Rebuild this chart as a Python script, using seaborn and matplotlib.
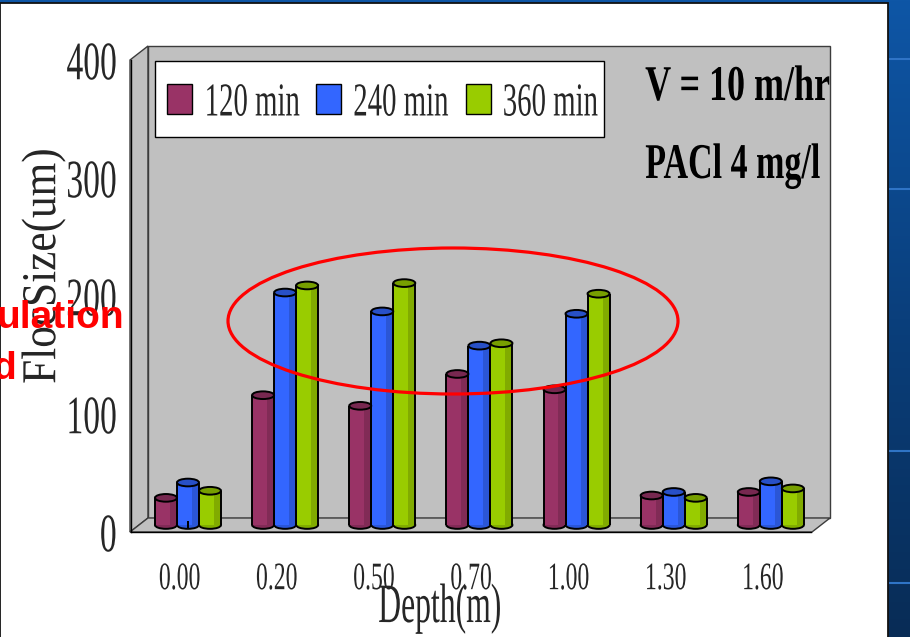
import numpy as np
import pandas as pd
import matplotlib
matplotlib.use("Agg")
import matplotlib.pyplot as plt
import seaborn as sns
from matplotlib.patches import Rectangle, Polygon, Ellipse
from matplotlib.patheffects import AbstractPathEffect
from matplotlib.transforms import Affine2D
from matplotlib.path import Path
from matplotlib.colors import LinearSegmentedColormap

# ---------------- data ----------------
depths = ["0.00", "0.20", "0.50", "0.70", "1.00", "1.30", "1.60"]
series = ["120 min", "240 min", "360 min"]
size_120 = [23, 110, 101, 128, 115, 25, 28]
size_240 = [36, 197, 181, 152, 179, 28, 37]
size_360 = [29, 203, 205, 154, 196, 23, 31]
y_ticks = [0, 100, 200, 300, 400]
y_ticklabels = ["0", "100", "200", "300", "400"]
note_lines = ["V = 10 m/hr", "PACl 4 mg/l"]
side_text = ["ulation", "d"]
colors = ["#993366", "#3366FF", "#99CC00"]

sns.set_style("white")
plt.rcParams["font.family"] = ["Liberation Serif", "DejaVu Serif"]

W, H = 910, 637


def fx(px):
    return px / W


def fy(py):
    return 1 - py / H


class Squeeze(AbstractPathEffect):
    """Draw text condensed (like the stretched PowerPoint chart text)."""

    def __init__(self, sx=1.0, sy=1.0, anchor="center"):
        super().__init__()
        self.sx, self.sy, self.anchor = sx, sy, anchor

    def draw_path(self, renderer, gc, tpath, affine, rgbFace=None):
        verts = tpath.vertices
        if tpath.codes is not None:
            verts = verts[tpath.codes != Path.CLOSEPOLY]
        if len(verts) == 0:
            renderer.draw_path(gc, tpath, affine, rgbFace)
            return
        d = affine.transform(verts)
        x0, x1 = d[:, 0].min(), d[:, 0].max()
        y0, y1 = d[:, 1].min(), d[:, 1].max()
        axp = {"left": x0, "right": x1}.get(self.anchor, (x0 + x1) / 2)
        ayp = (y0 + y1) / 2
        t = affine + Affine2D().translate(-axp, -ayp).scale(self.sx, self.sy).translate(axp, ayp)
        renderer.draw_path(gc, tpath, t, rgbFace)


fig = plt.figure(figsize=(9.1, 6.37), dpi=100)

# ---------------- background (slide + chart frame + 3D walls) ----------------
bg = fig.add_axes([0, 0, 1, 1], zorder=0)
bg.set_xlim(0, W)
bg.set_ylim(H, 0)
bg.axis("off")
grad = np.linspace(0, 1, 256).reshape(-1, 1)
cmap = LinearSegmentedColormap.from_list("slide", ["#0e56a6", "#0a3f7c", "#082c56"])
bg.imshow(grad, extent=[0, W, H, 0], cmap=cmap, aspect="auto", zorder=0)
bg.hlines([59, 189, 451, 583], 889, W, color="#2f74c6", lw=1.5, zorder=0.5)
bg.add_patch(Rectangle((0, 3), 888, 640, fc="white", ec="#111111", lw=1.3, zorder=1))

wall_c = "#C0C0C0"
edge_c = "#3c3c3c"
bg.add_patch(Polygon([(130, 532), (130, 60), (148, 46), (148, 518)], closed=True,
                     fc=wall_c, ec=edge_c, lw=1, zorder=2))
back = Rectangle((148, 46), 682, 472, fc=wall_c, ec=edge_c, lw=1, zorder=2)
bg.add_patch(back)
bg.add_patch(Polygon([(130, 532), (148, 518), (830, 518), (812, 532)], closed=True,
                     fc=wall_c, ec=edge_c, lw=1, zorder=2))
# legend frame
bg.add_patch(Rectangle((155, 61), 449, 76, fc="white", ec="black", lw=1, zorder=3))

# notes
for txt, yb, sq in zip(note_lines, [100, 178], [0.72, 0.68]):
    t = bg.text(645, yb, txt, fontsize=36, fontweight="bold", ha="left", va="baseline",
                color="black", zorder=4)
    t.set_clip_path(back)
    t.set_path_effects([Squeeze(sx=sq, anchor="left")])

# ---------------- bars (mid-depth plane) ----------------
axb = fig.add_axes([fx(139.4), fy(525), 680 / W, 472 / H], zorder=1)
axb.patch.set_visible(False)

df = pd.DataFrame({
    "Depth": depths * 3,
    "Size": size_120 + size_240 + size_360,
    "Time": np.repeat(series, len(depths)),
})
sns.barplot(data=df, x="Depth", y="Size", hue="Time", order=depths, hue_order=series,
            palette=colors, width=0.68, saturation=1, linewidth=0, errorbar=None, ax=axb)
axb.set_xlim(-0.5, 6.5)
axb.set_ylim(0, 400)
for s in axb.spines.values():
    s.set_visible(False)
axb.set_xticks([])
axb.set_yticks([])
axb.set_xlabel("")
axb.set_ylabel("")

eh = 6.5  # ellipse height (data units)
for p in list(axb.patches):
    x0, w, h = p.get_x(), p.get_width(), p.get_height()
    fc = np.array(p.get_facecolor()[:3])
    cx = x0 + w / 2
    z = p.get_zorder()
    axb.add_patch(Ellipse((cx, 0), w, eh, fc=fc * 0.85, ec="black", lw=1.4,
                          zorder=z - 0.1, clip_on=False))
    axb.add_patch(Rectangle((x0 + 0.68 * w, 0), 0.32 * w, h, fc=fc * 0.84, ec="none",
                            zorder=z + 0.05))
    axb.plot([x0, x0], [0, h], color="black", lw=1.4, zorder=z + 0.1, solid_capstyle="butt")
    axb.plot([x0 + w, x0 + w], [0, h], color="black", lw=1.4, zorder=z + 0.1,
             solid_capstyle="butt")
    axb.add_patch(Ellipse((cx, h), w, eh, fc=fc * 0.78, ec="black", lw=1.4,
                          zorder=z + 0.2, clip_on=False))

sns.move_legend(axb, "upper left", bbox_to_anchor=(fx(167), fy(83)),
                bbox_transform=fig.transFigure, ncol=3, frameon=False, title=None,
                fontsize=34, handlelength=0.53, handleheight=0.614, handletextpad=0.233,
                columnspacing=-0.91, borderpad=0, borderaxespad=0)
leg = axb.get_legend()
for hdl in leg.get_patches():
    hdl.set_edgecolor("black")
    hdl.set_linewidth(1)
for t in leg.get_texts():
    t.set_path_effects([Squeeze(sx=0.61, anchor="left")])

# ---------------- front axes: ticks & labels ----------------
axf = fig.add_axes([fx(131), fy(532), 680 / W, 472 / H], zorder=2)
axf.patch.set_visible(False)
axf.set_xlim(-0.5, 6.5)
axf.set_ylim(0, 400)
axf.spines["top"].set_visible(False)
axf.spines["right"].set_visible(False)
for k in ("left", "bottom"):
    axf.spines[k].set_color("black")
    axf.spines[k].set_linewidth(1)
axf.set_yticks(y_ticks)
axf.set_yticklabels(y_ticklabels)
axf.set_xticks(range(len(depths)))
axf.set_xticklabels(depths)
axf.set_xticks(np.arange(-0.5, len(depths), 1.0), minor=True)
axf.tick_params(axis="x", which="major", length=0, pad=21, labelsize=28)
axf.tick_params(axis="x", which="minor", length=5.8, width=1, direction="out",
                color="black")
axf.tick_params(axis="y", which="major", length=4.3, width=1, direction="out",
                color="black", pad=5.5, labelsize=39)
axf.tick_params(axis="y", which="minor", length=0)
for t in axf.get_yticklabels():
    t.set_path_effects([Squeeze(sx=0.62, anchor="right")])
for t in axf.get_xticklabels():
    t.set_path_effects([Squeeze(sx=0.61, anchor="center")])

axf.set_xlabel("Depth(m)", fontsize=40)
axf.xaxis.set_label_coords(0.454, -0.106)
axf.xaxis.label.set_path_effects([Squeeze(sx=0.57, anchor="center")])
axf.set_ylabel("FlocSize(um)", fontsize=35)
axf.yaxis.set_label_coords(-0.0962, 0.5636)
axf.yaxis.label.set_path_effects([Squeeze(sy=0.89, anchor="center")])

# ---------------- overlay: red ellipse + slide text ----------------
ov = fig.add_axes([0, 0, 1, 1], zorder=5)
ov.set_xlim(0, W)
ov.set_ylim(H, 0)
ov.axis("off")
ov.patch.set_visible(False)
ov.add_patch(Ellipse((453, 321), 450, 146, fill=False, ec="#FF0000", lw=2.3))
ov.text(124, 328, side_text[0], ha="right", va="baseline", fontsize=28, fontweight="bold",
        color="#FF0000", family="Liberation Sans")
ov.text(16, 379, side_text[1], ha="right", va="baseline", fontsize=28, fontweight="bold",
        color="#FF0000", family="Liberation Sans")

fig.savefig("out.png", dpi=100)
